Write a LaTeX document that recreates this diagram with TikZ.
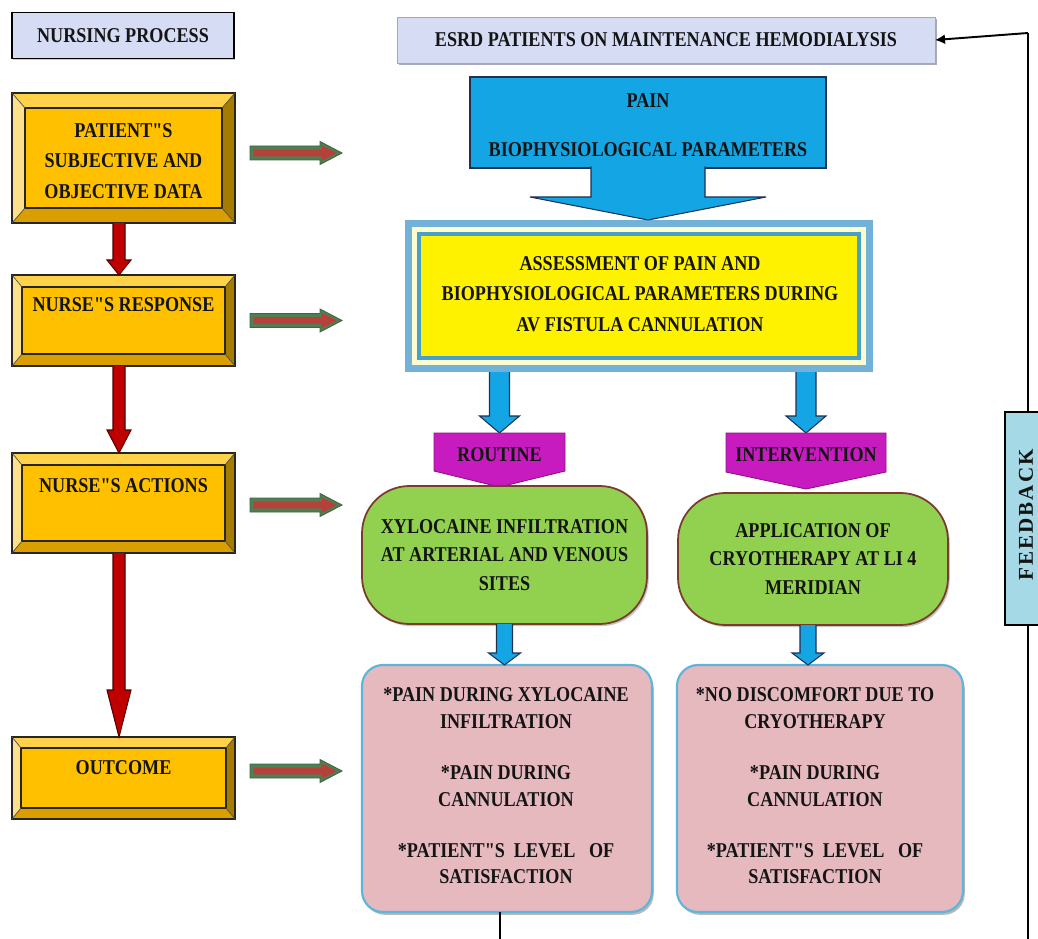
\documentclass[tikz,border=0pt]{standalone}
\usepackage{fontspec}
\setmainfont{Liberation Serif}[FakeStretch=0.86, Ligatures=TeXOff]
\newfontfamily\fbfont{Liberation Serif}[LetterSpace=10]
\usetikzlibrary{calc,arrows.meta,shadows}

\definecolor{gold}{HTML}{FFC000}
\definecolor{goldlt}{HTML}{FFD24A}
\definecolor{goldltr}{HTML}{FFE08A}
\definecolor{golddk}{HTML}{A67C00}
\definecolor{goldmd}{HTML}{D99E00}
\definecolor{lav}{HTML}{D5DCF4}
\definecolor{skyb}{HTML}{14A6E4}
\definecolor{navy}{HTML}{1F3050}
\definecolor{magent}{HTML}{C71BC0}
\definecolor{lgreen}{HTML}{92D050}
\definecolor{maroon}{HTML}{7A3B2E}
\definecolor{pinkt}{HTML}{E5B9BE}
\definecolor{pinkb}{HTML}{5BB6DC}
\definecolor{steel}{HTML}{72B2D8}
\definecolor{teal2}{HTML}{4A9FC8}
\definecolor{paley}{HTML}{FDFBD0}
\definecolor{fbcol}{HTML}{A6D9E6}
\definecolor{dred}{HTML}{C00000}
\definecolor{dgreen}{HTML}{4F7F52}
\definecolor{sred}{HTML}{B8403A}
\definecolor{txt}{HTML}{141414}

\newcommand\pxu{0.02cm}

% downward block arrow: fill, draw, from, to, half shaft, half head, head length (px)
\newcommand\dArrow[7]{%
 \fill[#1] let \p1=(#3),\p2=(#4) in (\x1-#5*\pxu,\y1) -- (\x1+#5*\pxu,\y1) -- (\x1+#5*\pxu,\y2+#7*\pxu) -- (\x1+#6*\pxu,\y2+#7*\pxu) -- (\x1,\y2) -- (\x1-#6*\pxu,\y2+#7*\pxu) -- (\x1-#5*\pxu,\y2+#7*\pxu) -- cycle;
 \draw[#2,line width=0.6pt] let \p1=(#3),\p2=(#4) in (\x1-#5*\pxu,\y1) -- (\x1-#5*\pxu,\y2+#7*\pxu) -- (\x1-#6*\pxu,\y2+#7*\pxu) -- (\x1,\y2) -- (\x1+#6*\pxu,\y2+#7*\pxu) -- (\x1+#5*\pxu,\y2+#7*\pxu) -- (\x1+#5*\pxu,\y1);
}
% rightward block arrow
\newcommand\rArrow[7]{%
 \filldraw[fill=#1,draw=#2,line width=0.5pt] let \p1=(#3),\p2=(#4) in (\x1,\y1-#5*\pxu) -- (\x2-#7*\pxu,\y1-#5*\pxu) -- (\x2-#7*\pxu,\y1-#6*\pxu) -- (\x2,\y1) -- (\x2-#7*\pxu,\y1+#6*\pxu) -- (\x2-#7*\pxu,\y1+#5*\pxu) -- (\x1,\y1+#5*\pxu) -- cycle;
}
% bevelled gold box around an empty node
\newcommand\bevel[3]{%
 \fill[goldlt] (#1.north west) -- (#1.north east) -- ($(#1.north east)+(-#2,#3)$) -- ($(#1.north west)+(#2,#3)$) -- cycle;
 \fill[goldltr] (#1.north west) -- ($(#1.north west)+(#2,#3)$) -- ($(#1.south west)+(#2,-#3)$) -- (#1.south west) -- cycle;
 \fill[golddk] (#1.north east) -- ($(#1.north east)+(-#2,#3)$) -- ($(#1.south east)+(-#2,-#3)$) -- (#1.south east) -- cycle;
 \fill[goldmd] (#1.south west) -- ($(#1.south west)+(#2,-#3)$) -- ($(#1.south east)+(-#2,-#3)$) -- (#1.south east) -- cycle;
 \fill[gold] ($(#1.north west)+(#2,#3)$) rectangle ($(#1.south east)+(-#2,-#3)$);
 \draw[line width=0.7pt,black!85] (#1.north west) rectangle (#1.south east);
 \draw[line width=0.7pt,black!85] ($(#1.north west)+(#2,#3)$) rectangle ($(#1.south east)+(-#2,-#3)$);
 \draw[line width=0.4pt,black!70] (#1.north west) -- ($(#1.north west)+(#2,#3)$)
   (#1.north east) -- ($(#1.north east)+(-#2,#3)$)
   (#1.south west) -- ($(#1.south west)+(#2,-#3)$)
   (#1.south east) -- ($(#1.south east)+(-#2,-#3)$);
}

\tikzset{
 lbl/.style={font=\bfseries\fontsize{12}{17.5}\selectfont, text=txt, align=center, inner sep=0pt},
 lblg/.style={lbl, font=\bfseries\fontsize{12}{16.2}\selectfont},
 lblp/.style={lbl, font=\bfseries\fontsize{12}{15.3}\selectfont},
 bevbox/.style={minimum width=223*\pxu, inner sep=0pt, outer sep=0pt},
 plain/.style={inner sep=0pt, outer sep=0pt},
 bluebox/.style={plain, fill=lav, draw=black, line width=0.8pt},
 tabbox/.style={plain},
 greenbox/.style={plain, fill=lgreen, draw=maroon, line width=1pt, rounded corners=0.95cm,
   drop shadow={shadow xshift=1pt, shadow yshift=-1.2pt, fill=black!45}},
 pinkbox/.style={plain, fill=pinkt, draw=pinkb, line width=1.2pt, rounded corners=0.42cm,
   drop shadow={shadow xshift=1pt, shadow yshift=-1.6pt, fill=black!55}},
}

\begin{document}
\begin{tikzpicture}[x=0.02cm,y=-0.02cm]
\useasboundingbox (0,0) rectangle (1038,939);
\fill[white] (0,0) rectangle (1038,939);
\clip (0,0) rectangle (1038,939);

% ---------- left column ----------
\node[bluebox, lbl, minimum width=222*\pxu, minimum height=46*\pxu,
  drop shadow={shadow xshift=0.8pt, shadow yshift=-0.8pt, fill=black!40}] (np) at (123,35.5) {NURSING PROCESS};

\node[bevbox, minimum height=130*\pxu] (b1) at (123.5,158) {};
\bevel{b1}{13}{15}
\node[lbl] (b1t) at (123.5,161) {PATIENT"S\\SUBJECTIVE AND\\OBJECTIVE DATA};

\node[bevbox, minimum height=91*\pxu] (b2) at (123.5,320.5) {};
\bevel{b2}{10}{12}
\node[lbl] (b2t) at (123.5,305) {NURSE"S RESPONSE};

\node[bevbox, minimum height=100*\pxu] (b3) at (123.5,503) {};
\bevel{b3}{10}{12}
\node[lbl] (b3t) at (123.5,486) {NURSE"S ACTIONS};

\node[bevbox, minimum height=82*\pxu] (b4) at (123.5,778) {};
\bevel{b4}{9}{11}
\node[lbl] (b4t) at (123.5,768) {OUTCOME};

\dArrow{dred}{dred!45!black}{$(b1.south)+(-4.5,0)$}{b2.north}{6}{12}{15}
\dArrow{dred}{dred!45!black}{$(b2.south)+(-4.5,0)$}{b3.north}{6}{12}{23}
\dArrow{dred}{dred!45!black}{$(b3.south)+(-4.5,0)$}{b4.north}{6}{12}{47}

% green/red side arrows
\coordinate (e1) at (342,153);
\coordinate (e2) at (342,320);
\coordinate (e3) at (342,505);
\coordinate (e4) at (342,771);
\foreach \b/\e/\dy in {b1/e1/-5, b2/e2/0, b3/e3/2, b4/e4/-7}{
  \rArrow{dgreen}{dgreen!80!black}{$(\b.east)+(15,\dy)$}{\e}{7}{11.5}{22}
  \rArrow{sred}{sred}{$(\b.east)+(19,\dy)$}{$(\e)+(-6,0)$}{3}{7}{14}
}

% ---------- feedback loop ----------
\node[plain, fill=lav, draw=lav!70!navy, line width=0.4pt, minimum width=538*\pxu, minimum height=46*\pxu,
  drop shadow={shadow xshift=1pt, shadow yshift=-1.4pt, fill=navy!80}, lbl] (esrd) at (666,40)
  {ESRD PATIENTS ON MAINTENANCE HEMODIALYSIS};
\coordinate (ftop) at (1028,33);
\coordinate (fbot) at (1028,945);
\draw[line width=1.1pt] (fbot) -- (ftop);
\draw[line width=1.1pt,-{Latex[length=2mm,width=2mm]}] (ftop) -- (esrd.east);
\node[plain, fill=fbcol, draw=black, line width=0.8pt, minimum width=44*\pxu, minimum height=213*\pxu] (fb) at (1027,518.5) {};
\node[rotate=90, inner sep=0pt, text=txt, font=\fbfont\bfseries\fontsize{12}{14}\selectfont] (fbt) at (1026,515) {FEEDBACK};

% ---------- assessment ----------
\node[plain, fill=steel, minimum width=468*\pxu, minimum height=152*\pxu] (assess) at (639,296) {};
\fill[paley] ($(assess.north west)+(7,7)$) rectangle ($(assess.south east)+(-7,-7)$);
\fill[teal2] ($(assess.north west)+(12,12)$) rectangle ($(assess.south east)+(-12,-12)$);
\fill[yellow] ($(assess.north west)+(16,16)$) rectangle ($(assess.south east)+(-16,-16)$);
\node[lbl] (assesst) at (640,294) {ASSESSMENT OF PAIN AND\\BIOPHYSIOLOGICAL PARAMETERS DURING\\AV FISTULA CANNULATION};

% pain callout
\node[plain, fill=skyb, draw=navy, line width=0.7pt, minimum width=356*\pxu, minimum height=91*\pxu] (pain) at (648,122.5) {};
\dArrow{skyb}{navy}{$(pain.south)+(0,-1.5)$}{assess.north}{57}{118}{23}
\node[lbl] (paint) at (648,125) {PAIN\\[10.5pt]BIOPHYSIOLOGICAL PARAMETERS};

% routine / intervention tabs
\node[tabbox, minimum width=131*\pxu, minimum height=38*\pxu] (routine) at (499.5,452) {};
\node[tabbox, minimum width=160*\pxu, minimum height=39*\pxu] (interv) at (806,452.5) {};
\dArrow{skyb}{navy}{assess.south -| routine.north}{routine.north}{10}{20}{17}
\dArrow{skyb}{navy}{assess.south -| interv.north}{interv.north}{10}{20}{17}
\foreach \n/\d in {routine/16, interv/17}{
  \filldraw[fill=magent, draw=magent!70!black, line width=0.5pt] (\n.north west) -- (\n.north east) -- (\n.south east) -- ($(\n.south)+(0,\d)$) -- (\n.south west) -- cycle;
}
\node[lbl] (routinet) at (499.5,455) {ROUTINE};
\node[lbl] (intervt) at (806,455) {INTERVENTION};

% ---------- green boxes ----------
\node[greenbox, lblg, minimum width=285*\pxu, minimum height=138*\pxu] (xylo) at (504.5,555)
  {XYLOCAINE INFILTRATION\\AT ARTERIAL AND VENOUS\\SITES};
\node[greenbox, lblg, minimum width=270*\pxu, minimum height=132*\pxu] (cryo) at (813,559)
  {APPLICATION OF\\CRYOTHERAPY AT LI 4\\MERIDIAN};

% ---------- pink outcome boxes ----------
\node[pinkbox, minimum width=290*\pxu, minimum height=247*\pxu] (pinkL) at (507,788.5) {};
\node[pinkbox, minimum width=286*\pxu, minimum height=247*\pxu] (pinkR) at (820,788.5) {};
\dArrow{skyb}{navy}{xylo.south}{pinkL.north}{8}{16}{12}
\dArrow{skyb}{navy}{$(cryo.south)+(-5,0)$}{pinkR.north}{8}{16}{12}
\node[lblp] (pinkLt) at (506,786) {*PAIN DURING XYLOCAINE\\INFILTRATION\\[13.6pt]*PAIN DURING\\CANNULATION\\[13.6pt]*PATIENT"S\ \ LEVEL\ \ \ OF\\SATISFACTION};
\node[lblp] (pinkRt) at (815,786) {*NO DISCOMFORT DUE TO\\CRYOTHERAPY\\[13.6pt]*PAIN DURING\\CANNULATION\\[13.6pt]*PATIENT"S\ \ LEVEL\ \ \ OF\\SATISFACTION};

\coordinate (lb) at (500,945);
\draw[line width=1.1pt] (pinkL.south -| lb) -- (lb);
\end{tikzpicture}
\end{document}
